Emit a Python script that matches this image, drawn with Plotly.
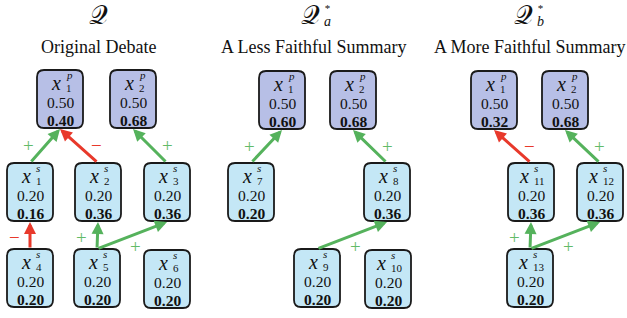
import plotly.graph_objects as go

W, H = 627, 318

# ---------------- data ----------------
panel_titles = ["Original Debate", "A Less Faithful Summary", "A More Faithful Summary"]
panel_sup = ["", "*", "*"]
panel_sub = ["", "a", "b"]

node_panel = [0, 0, 0, 0, 0, 0, 0, 0, 1, 1, 1, 1, 1, 1, 2, 2, 2, 2, 2]
node_kind = ["p", "p", "s", "s", "s", "s", "s", "s", "p", "p", "s", "s", "s", "s", "p", "p", "s", "s", "s"]
node_idx = ["1", "2", "1", "2", "3", "4", "5", "6", "1", "2", "7", "8", "9", "10", "1", "2", "11", "12", "13"]
node_base = [0.50, 0.50, 0.20, 0.20, 0.20, 0.20, 0.20, 0.20,
             0.50, 0.50, 0.20, 0.20, 0.20, 0.20,
             0.50, 0.50, 0.20, 0.20, 0.20]
node_strength = [0.40, 0.68, 0.16, 0.36, 0.36, 0.20, 0.20, 0.20,
                 0.60, 0.68, 0.20, 0.36, 0.20, 0.20,
                 0.32, 0.68, 0.36, 0.36, 0.20]

edge_src = [2, 3, 4, 5, 6, 6, 10, 11, 12, 16, 17, 18, 18]
edge_dst = [0, 0, 1, 2, 3, 4, 8, 9, 11, 14, 15, 16, 17]
edge_sign = ["+", "-", "+", "-", "+", "+", "+", "+", "+", "-", "+", "+", "+"]

# ---------------- layout (positions / styles) ----------------
box_left = [37, 110, 7, 75, 144, 7, 74, 144, 259, 330, 228, 364, 294, 365, 471, 542, 508, 577, 507]
box_top = [70, 70, 163, 163, 163, 249, 249, 250, 71, 71, 163, 163, 249, 250, 71, 71, 163, 163, 249]
BW, BH, R = 46, 58, 7
panel_cx = [98, 314, 530]
Q_cx = [98, 314, 527]

SERIF = "Liberation Serif, Times New Roman, serif"
FILL = {"p": "#b7bfe6", "s": "#c4e7f6"}
GREEN = "#55b25c"
GREEN_TXT = "#62bb68"
RED = "#e8392b"

shapes = []
ann = []


def rrect(x0, y0, x1, y1, r):
    return (f"M{x0 + r},{y0} L{x1 - r},{y0} Q{x1},{y0} {x1},{y0 + r} "
            f"L{x1},{y1 - r} Q{x1},{y1} {x1 - r},{y1} L{x0 + r},{y1} "
            f"Q{x0},{y1} {x0},{y1 - r} L{x0},{y0 + r} Q{x0},{y0} {x0 + r},{y0} Z")


for i in range(len(node_kind)):
    x0, y0 = box_left[i], box_top[i]
    cx = x0 + BW / 2
    shapes.append(dict(type="path", path=rrect(x0, y0, x0 + BW, y0 + BH, R),
                       fillcolor=FILL[node_kind[i]], line=dict(color="#1a1a1a", width=1.8),
                       layer="below"))
    nd = len(node_idx[i])
    xr = cx + 3 - (nd - 1) * 3
    ann.append(dict(x=xr, y=y0 + 13, text="<i>x</i>", showarrow=False, xanchor="right",
                    yanchor="middle", font=dict(family=SERIF, size=20, color="#111")))
    ann.append(dict(x=xr + 1, y=y0 + 5, text="<i>" + node_kind[i] + "</i>", showarrow=False,
                    xanchor="left", yanchor="middle", font=dict(family=SERIF, size=11, color="#111")))
    ann.append(dict(x=xr + 1, y=y0 + 17.5, text=node_idx[i], showarrow=False,
                    xanchor="left", yanchor="middle", font=dict(family=SERIF, size=11, color="#111")))
    ann.append(dict(x=cx, y=y0 + 32.5, text=f"{node_base[i]:.2f}", showarrow=False,
                    xanchor="center", yanchor="middle", font=dict(family=SERIF, size=15.5, color="#111")))
    ann.append(dict(x=cx, y=y0 + 50.5, text=f"<b>{node_strength[i]:.2f}</b>", showarrow=False,
                    xanchor="center", yanchor="middle", font=dict(family=SERIF, size=15.5, color="#111")))

for s, d, sg in zip(edge_src, edge_dst, edge_sign):
    sx, sy = box_left[s] + BW / 2, box_top[s]
    dx, dy = box_left[d] + BW / 2, box_top[d] + BH
    col = GREEN if sg == "+" else RED
    ann.append(dict(x=dx, y=dy + 1, ax=sx, ay=sy, xref="x", yref="y", axref="x", ayref="y",
                    showarrow=True, arrowhead=2, arrowsize=0.8, arrowwidth=3,
                    arrowcolor=col, text="", standoff=0))
    mx, my = (sx + dx) / 2, (sy + dy) / 2
    if abs(sx - dx) < 2:
        lx, ly = mx - 16, my + 2
    elif abs(sx - dx) > 1.5 * abs(sy - dy):
        lx, ly = mx + 3, my + 11
    else:
        lx, ly = mx + (17 if sx > dx else -17), my
    ann.append(dict(x=lx, y=ly, text="+" if sg == "+" else "\u2212", showarrow=False,
                    xanchor="center", yanchor="middle",
                    font=dict(family=SERIF, size=19, color=GREEN_TXT if sg == "+" else RED)))

for p in range(3):
    ann.append(dict(x=panel_cx[p], y=47, text=panel_titles[p], showarrow=False,
                    xanchor="center", yanchor="middle", font=dict(family=SERIF, size=18, color="#111")))
    qx = Q_cx[p] - (0 if panel_sup[p] == "" else 4)
    ann.append(dict(x=qx, y=15, text="\U0001D4AC", showarrow=False,
                    xanchor="center", yanchor="middle", font=dict(family="DejaVu Serif, serif", size=26, color="#111")))
    if panel_sup[p]:
        ann.append(dict(x=qx + 12, y=0, showarrow=False, xanchor="left", yanchor="top", align="center",
                        text=panel_sup[p] + "<br><span style=\"font-size:14px\"><i>" + panel_sub[p] + "</i></span>",
                        font=dict(family=SERIF, size=11, color="#111")))

fig = go.Figure()
fig.update_layout(
    width=W, height=H, margin=dict(l=0, r=0, t=0, b=0),
    paper_bgcolor="white", plot_bgcolor="white",
    xaxis=dict(range=[0, W], visible=False, fixedrange=True),
    yaxis=dict(range=[H, 0], visible=False, fixedrange=True),
    shapes=shapes, annotations=ann, showlegend=False,
)
fig.write_html("out.html", config={"displayModeBar": False},
               post_script="document.body.style.margin='0';document.body.style.overflow='hidden';")
